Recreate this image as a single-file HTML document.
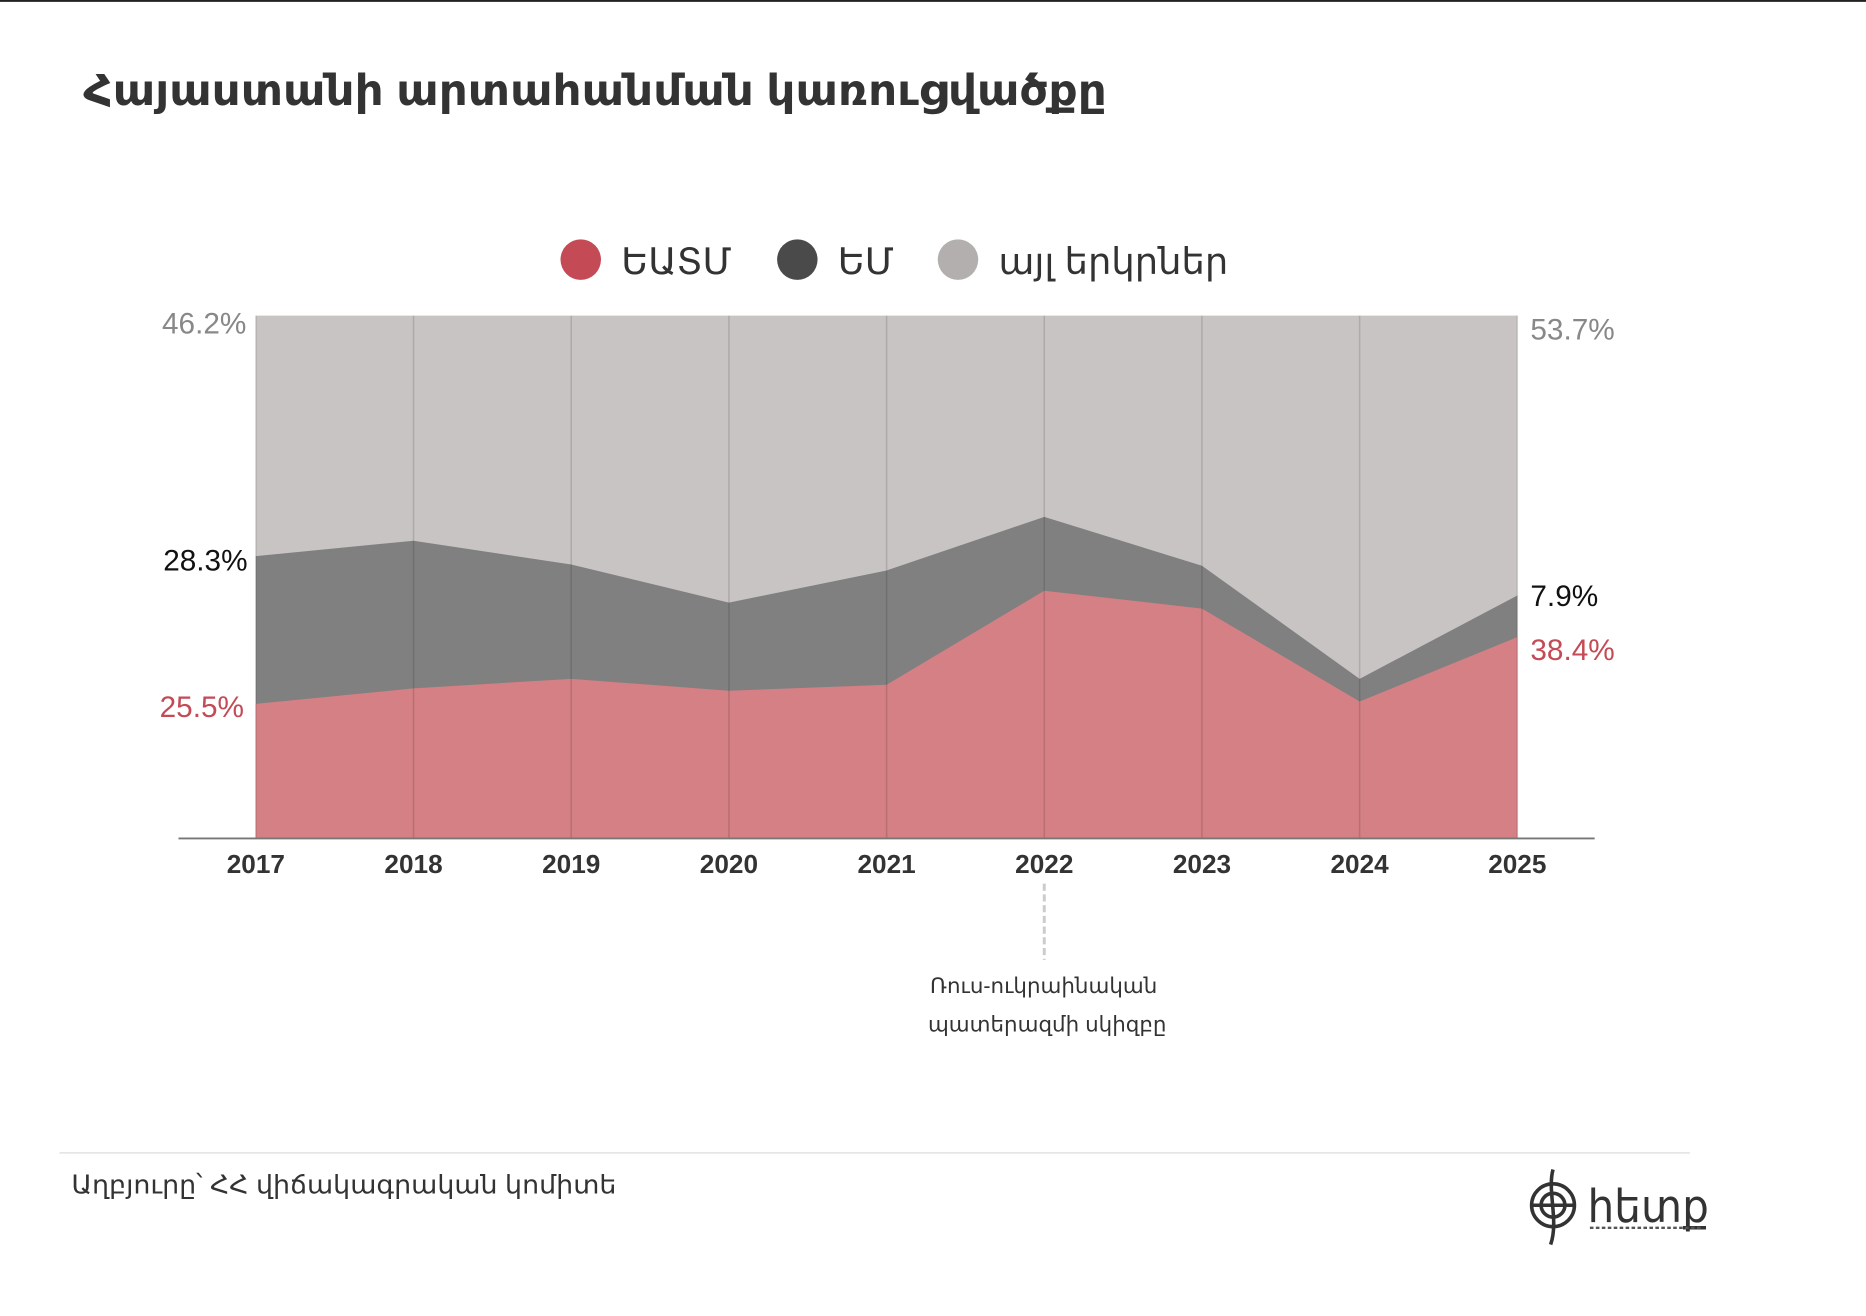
<!DOCTYPE html>
<html><head><meta charset="utf-8"><style>
html,body{margin:0;padding:0;background:#fff;}
svg{display:block;}
text{font-family:"Liberation Sans","DejaVu Sans",sans-serif;}
</style></head><body>
<svg width="1866" height="1316" viewBox="0 0 1568 1105" preserveAspectRatio="none" xmlns="http://www.w3.org/2000/svg">
<rect width="1568" height="1105" fill="#fff"/>
<line x1="0" y1="0.8" x2="1568" y2="0.8" stroke="#222" stroke-width="1.6"/>
<text x="70" y="88" font-size="36" font-weight="bold" fill="#333" font-family="DejaVu Sans, sans-serif" textLength="860" lengthAdjust="spacingAndGlyphs">Հայաստանի արտահանման կառուցվածքը</text>
<!-- legend -->
<circle cx="488" cy="218" r="17" fill="#c44a55"/>
<text x="522" y="230" font-size="31" fill="#333" font-family="DejaVu Sans, sans-serif">ԵԱՏՄ</text>
<circle cx="670" cy="218" r="17" fill="#4a4a4a"/>
<text x="704" y="230" font-size="31" fill="#333" font-family="DejaVu Sans, sans-serif">ԵՄ</text>
<circle cx="805" cy="218" r="17" fill="#b3afaf"/>
<text x="839" y="230" font-size="31" fill="#333" font-family="DejaVu Sans, sans-serif">այլ երկրներ</text>
<!-- areas -->
<rect x="215" y="265" width="1060" height="439" fill="#c8c4c4"/>
<polygon fill="#808080" points="215,467 347.5,454 480,474 612.5,506 745,479 877.5,434 1010,475 1142.5,570 1275,500 1275,704 215,704"/>
<polygon fill="#d48084" points="215,591 347.5,578 480,570 612.5,580 745,575 877.5,496 1010,511 1142.5,589 1275,535 1275,704 215,704"/>
<g stroke="#000" stroke-opacity="0.13" stroke-width="1.3">
<line x1="215" y1="265" x2="215" y2="704"/><line x1="347.5" y1="265" x2="347.5" y2="704"/><line x1="480" y1="265" x2="480" y2="704"/><line x1="612.5" y1="265" x2="612.5" y2="704"/><line x1="745" y1="265" x2="745" y2="704"/><line x1="877.5" y1="265" x2="877.5" y2="704"/><line x1="1010" y1="265" x2="1010" y2="704"/><line x1="1142.5" y1="265" x2="1142.5" y2="704"/><line x1="1275" y1="265" x2="1275" y2="704"/>
</g>
<line x1="150" y1="704" x2="1340" y2="704" stroke="#777" stroke-width="1.6"/>
<!-- value labels -->
<g font-size="25">
<text x="207" y="280" text-anchor="end" fill="#888">46.2%</text>
<text x="208" y="479" text-anchor="end" fill="#111">28.3%</text>
<text x="205" y="602" text-anchor="end" fill="#c44a55">25.5%</text>
<text x="1286" y="285" fill="#888">53.7%</text>
<text x="1286" y="509" fill="#111">7.9%</text>
<text x="1286" y="554" fill="#c44a55">38.4%</text>
</g>
<!-- years -->
<g font-size="22" font-weight="bold" fill="#333" text-anchor="middle">
<text x="215" y="733">2017</text><text x="347.5" y="733">2018</text><text x="480" y="733">2019</text><text x="612.5" y="733">2020</text><text x="745" y="733">2021</text><text x="877.5" y="733">2022</text><text x="1010" y="733">2023</text><text x="1142.5" y="733">2024</text><text x="1275" y="733">2025</text>
</g>
<line x1="877.5" y1="742" x2="877.5" y2="806" stroke="#ccc" stroke-width="2.5" stroke-dasharray="6,3"/>
<g font-size="18" fill="#333" text-anchor="middle" font-family="DejaVu Sans, sans-serif">
<text x="877" y="834">Ռուս-ուկրաինական</text>
<text x="880" y="866">պատերազմի սկիզբը</text>
</g>
<line x1="50" y1="968" x2="1420" y2="968" stroke="#e6e6e6" stroke-width="1.5"/>
<text x="60" y="1002" font-size="22" fill="#333" font-family="DejaVu Sans, sans-serif" textLength="458" lengthAdjust="spacingAndGlyphs">Աղբյուրը՝ ՀՀ վիճակագրական կոմիտե</text>
<!-- logo -->
<g fill="none" stroke="#333" stroke-width="3">
<circle cx="1305" cy="1012" r="18"/>
<circle cx="1305" cy="1012" r="10"/>
<line x1="1287" y1="1012" x2="1323" y2="1012"/>
<path d="M1305,982 C1300,1000 1310,1025 1303,1045"/>
</g>
<text x="1334" y="1026" font-size="38" fill="#333" font-family="DejaVu Sans, sans-serif" textLength="102" lengthAdjust="spacingAndGlyphs">հետք</text>
<line x1="1336" y1="1031" x2="1430" y2="1031" stroke="#555" stroke-width="2" stroke-dasharray="3,2"/>
</svg>
</body></html>
